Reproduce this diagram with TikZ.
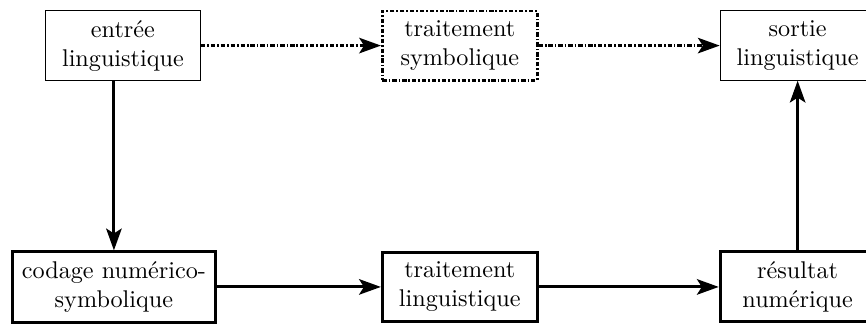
\documentclass[tikz,border=0pt]{standalone}
\usepackage{tikz}
\usetikzlibrary{arrows.meta}

\tikzset{
  bloc/.style={draw, line width=0.4pt, minimum width=2.25cm, minimum height=0.98cm, inner sep=4pt, align=center},
  blocepais/.style={bloc, line width=1.2pt},
  blocsymb/.style={bloc, line width=1.1pt, dash pattern=on 1.8pt off 0.8pt on 0.7pt off 0.8pt},
  fleche/.style={-{Stealth[length=9pt,width=6.4pt,inset=2pt]}, line width=1.2pt},
  flechesymb/.style={fleche, line width=1.1pt, dash pattern=on 1.8pt off 0.8pt on 0.7pt off 0.8pt}
}

\begin{document}
\begin{tikzpicture}
   \useasboundingbox (0,0) rectangle (12.58,4.72);

   %% Niveau symbolique
   \node[bloc] (entree) at (1.786,4.058) {entrée\\linguistique};
   \node[blocsymb] (symb) at (6.679,4.058) {traitement\\symbolique};
   \node[bloc] (sortie) at (11.587,4.058) {sortie\\linguistique};

   %% Niveau numerique
   \node[blocepais] (codage) at (1.655,0.552) {codage numérico-\\symbolique};
   \node[blocepais] (ling) at (6.679,0.552) {traitement\\linguistique};
   \node[blocepais] (resultat) at (11.587,0.552) {résultat\\numérique};

   %% Fleches
   \draw[flechesymb] (entree) -- (symb);
   \draw[flechesymb] (symb) -- (sortie);
   \draw[fleche] (entree.south -| codage) -- (codage);
   \draw[fleche] (codage) -- (ling);
   \draw[fleche] (ling) -- (resultat);
   \draw[fleche] (resultat) -- (sortie);
  \end{tikzpicture}
\end{document}
